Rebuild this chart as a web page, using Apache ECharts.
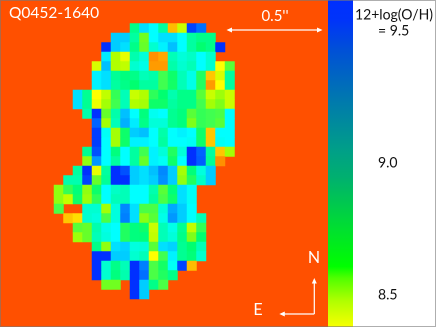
<!DOCTYPE html>
<html><head><meta charset="utf-8">
<style>html,body{margin:0;padding:0;background:#fff}#c{width:436px;height:327px}</style>
<script src="https://cdn.jsdelivr.net/npm/echarts@6/dist/echarts.min.js"></script></head>
<body><div id="c"></div>
<script>
const colIds = Array.from({length:19},(_,i)=>String(i));
const rowIds = Array.from({length:29},(_,i)=>String(i));
const rowStart = [8,6,5,5,4,4,4,2,2,3,4,4,4,3,3,2,1,0,0,0,1,2,2,4,4,4,4,5,8];
const rowValues = [
[8.95,9.25,9.2,9.0,8.44,8.57,9.47,9.4],
[9.28,9.28,9.0,8.7,9.2,9.25,9.25,9.2,9.0,8.95,8.95],
[9.5,9.28,9.25,8.95,8.72,9.1,9.22,9.3,9.2,9.0,8.9,8.95,9.5],
[9.23,8.6,8.53,9.03,9.12,8.38,8.42,9.05,9.12,9.08,9.2,9.1],
[8.55,9.3,8.6,8.58,9.1,9.15,8.41,8.41,9.02,9.1,9.05,9.2,9.1,8.5,8.75],
[9.22,9.25,8.98,8.93,8.95,9.05,9.02,8.8,8.88,9.05,9.15,8.85,8.45,8.55,9.0],
[9.22,9.25,9.0,8.95,8.9,9.0,9.0,8.8,8.87,9.05,9.15,8.85,8.41,8.5,9.0],
[9.25,8.97,8.5,8.58,8.82,9.05,8.57,8.6,8.83,8.9,9.03,8.95,8.95,8.75,8.57,8.63,8.57],
[9.25,8.97,8.52,8.62,8.8,9.05,8.6,8.62,8.88,8.88,9.0,8.95,8.95,8.8,8.62,8.68,8.57],
[9.02,9.5,8.72,9.02,9.3,9.2,8.93,9.17,9.2,8.97,8.93,8.75,8.82,8.8,8.78,9.2],
[9.42,8.62,9.05,9.32,9.23,8.95,9.12,9.12,8.97,8.93,8.68,8.82,8.8,8.75,9.2],
[9.48,9.18,8.62,8.88,9.28,9.3,9.2,9.02,9.2,9.22,9.2,8.88,8.45,9.2,9.2],
[9.48,9.2,8.62,8.88,9.22,9.22,9.2,9.0,9.2,9.2,9.18,8.88,8.45,9.18,9.2],
[8.97,9.45,9.2,8.93,9.2,9.0,8.8,9.22,9.12,8.85,9.12,9.5,9.42,9.0,8.45,8.62],
[8.65,9.35,9.2,9.0,9.2,9.0,8.72,9.22,9.18,8.88,9.2,9.5,9.43,8.98,8.36],
[9.0,9.5,8.53,9.0,9.5,9.45,9.28,9.25,9.3,9.37,9.28,8.62,8.92,9.13,9.28],
[9.03,9.03,9.47,8.72,8.98,9.5,9.5,9.28,9.25,9.28,9.36,9.28,8.65,8.85,9.08,9.28],
[8.65,8.82,8.92,8.65,8.88,9.2,9.08,9.05,9.2,9.2,9.03,8.75,8.92,9.25,9.18],
[8.65,8.58,8.88,8.63,8.83,9.2,9.05,9.05,9.2,9.2,9.0,8.78,8.88,9.25,9.18],
[8.78,null,null,9.1,9.1,8.62,9.13,9.37,9.25,8.78,8.78,9.12,9.33,9.28,9.2],
[8.45,8.47,9.1,9.13,8.78,9.13,9.38,9.25,8.66,8.75,9.15,9.35,9.28,9.2,9.05],
[8.75,8.72,9.03,9.15,9.2,8.85,8.93,8.88,8.57,9.05,9.15,8.97,8.58,8.82],
[8.63,8.72,9.05,9.13,9.2,8.85,8.93,8.92,8.58,9.05,9.12,8.95,8.68,8.9],
[8.95,8.65,9.25,9.27,9.13,9.12,8.75,9.25,9.27,8.97,8.9,9.05],
[9.5,9.5,9.28,9.28,9.1,9.05,8.5,8.8,9.22,8.97,8.92,9.1],
[9.5,9.1,8.95,9.05,9.5,9.38,8.78,8.87,9.18,9.47,8.44],
[9.5,9.1,8.93,9.03,9.5,9.4,8.78,8.85,8.95],
[8.7,8.7,null,9.5,9.28,8.95,8.78],
[9.5,9.28]
];
const scaleColors = ['#ff9000','#ffff00','#b0ff00','#70ff20','#40ff50','#00ff70','#00ffa0','#00ffd0','#00ffff','#00c0ff','#0070ff','#0030ff'];
const barStops = [[0,'#0030ff'],[0.06,'#0034fa'],[0.15,'#0050d8'],[0.3,'#0078b0'],[0.46,'#00a088'],[0.54,'#00b070'],[0.7,'#00e030'],[0.815,'#00ff00'],[0.85,'#50ff00'],[0.92,'#b0ff00'],[1,'#f8ff00']];
const scaleTicks = [8.5,9.0,9.5];
const barTop = [9.617];

const cells = [];
rowValues.forEach((vals,r)=>vals.forEach((v,i)=>{ if(v!==null) cells.push([rowStart[r]+i,r,v]); }));
const font = 'Lato';
const white = '#fff';
function txt(x,y,s,size,fill,align){return {type:'text',z:50,style:{x,y,text:s,fill:fill||white,font:size+'px '+font,textAlign:align||'center',textVerticalAlign:'middle'}};}
function ln(x1,y1,x2,y2){return {type:'line',z:50,shape:{x1,y1,x2,y2},style:{stroke:white,lineWidth:1.2}};}
function head(pts){return {type:'polygon',z:50,shape:{points:pts},style:{fill:white}};}
const chart = echarts.init(document.getElementById('c'),null,{renderer:'canvas',devicePixelRatio:2});
chart.setOption({
  animation:false,
  backgroundColor:'#ffffff',
  grid:[
    {left:54,top:23.5,width:180.5,height:275.5},
    {left:328,top:0,width:25,height:327}
  ],
  xAxis:[
    {gridIndex:0,type:'category',data:colIds,show:false},
    {gridIndex:1,type:'category',data:['bar'],show:false}
  ],
  yAxis:[
    {gridIndex:0,type:'category',data:rowIds,inverse:true,show:false},
    {gridIndex:1,type:'value',min:8.379,max:barTop[0],position:'right',
     axisLine:{show:false},axisTick:{show:false},splitLine:{show:false},
     axisLabel:{customValues:scaleTicks,margin:25,align:'left',color:'#111',fontFamily:font,fontSize:14,
       formatter:v=>Math.abs(v-9.5)<1e-6?'= 9.5':v.toFixed(1)}}
  ],
  visualMap:{show:false,type:'continuous',seriesIndex:0,dimension:2,min:8.4,max:9.5,inRange:{color:scaleColors}},
  series:[
    {type:'heatmap',xAxisIndex:0,yAxisIndex:0,data:cells,itemStyle:{borderWidth:0},emphasis:{disabled:true},z:2},
    {type:'bar',xAxisIndex:1,yAxisIndex:1,data:barTop,barWidth:'100%',silent:true,z:2,
     itemStyle:{color:new echarts.graphic.LinearGradient(0,0,0,1,barStops.map(s=>({offset:s[0],color:s[1]})))}}
  ],
  graphic:[
    {type:'rect',z:-1,shape:{x:0,y:0,width:328,height:327},style:{fill:'#ff5000'}},
    {type:'rect',z:60,shape:{x:0.5,y:0.5,width:435,height:326},style:{fill:'none',stroke:'rgba(120,120,120,0.6)',lineWidth:1}},
    txt(9,13,'Q0452-1640',15.5,white,'left'),
    txt(275,16,'0.5\'\'',15),
    ln(229,30,320,30), head([[226.5,30],[232,27.5],[232,32.5]]), head([[322.5,30],[317,27.5],[317,32.5]]),
    txt(314,258,'N',16), txt(258,310,'E',16),
    ln(314.3,281,314.3,314), ln(314.3,314,282,314),
    head([[314.3,278],[311.8,283.5],[316.8,283.5]]), head([[279.3,314],[284.8,311.5],[284.8,316.5]]),
    txt(394,15,'12+log(O/H)',14,'#111')
  ]
});
</script></body></html>
